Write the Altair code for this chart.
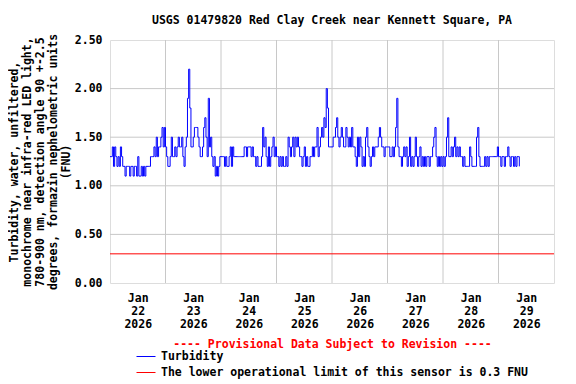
import altair as alt
import pandas as pd

title_text = "USGS 01479820 Red Clay Creek near Kennett Square, PA"
y_title = ["Turbidity, water, unfiltered,",
           "monochrome near infra-red LED light,",
           "780-900 nm, detection angle 90 +-2.5",
           "degrees, formazin nephelometric units",
           "(FNU)"]
x_title = "---- Provisional Data Subject to Revision ----"
series_turb = "Turbidity"
series_limit = "The lower operational limit of this sensor is 0.3 FNU"
limit_value = 0.3

# Turbidity (FNU), half-hourly readings, one list per day
jan22 = [1.3, 1.3, 1.4, 1.2, 1.4, 1.3, 1.2, 1.3, 1.2, 1.4, 1.3, 1.2, 1.2, 1.1, 1.2, 1.2,
         1.2, 1.1, 1.2, 1.2, 1.1, 1.2, 1.2, 1.1, 1.3, 1.1, 1.1, 1.2, 1.1, 1.2, 1.1, 1.2,
         1.2, 1.2, 1.2, 1.3, 1.3, 1.3, 1.4, 1.3, 1.5, 1.3, 1.4, 1.4, 1.5, 1.6, 1.4, 1.6]
jan23 = [1.4, 1.3, 1.2, 1.2, 1.3, 1.5, 1.3, 1.3, 1.4, 1.3, 1.4, 1.5, 1.4, 1.4, 1.5, 1.3,
         1.2, 1.4, 1.5, 1.9, 2.2, 1.8, 1.4, 1.4, 1.5, 1.6, 1.6, 1.6, 1.5, 1.4, 1.3, 1.3,
         1.4, 1.6, 1.7, 1.5, 1.3, 1.9, 1.4, 1.5, 1.3, 1.2, 1.3, 1.1, 1.2, 1.1, 1.2, 1.3]
jan24 = [1.3, 1.3, 1.3, 1.2, 1.3, 1.2, 1.2, 1.3, 1.4, 1.2, 1.4, 1.3, 1.3, 1.3, 1.3, 1.3,
         1.3, 1.3, 1.3, 1.3, 1.4, 1.4, 1.3, 1.4, 1.4, 1.4, 1.3, 1.4, 1.3, 1.3, 1.2, 1.3,
         1.2, 1.2, 1.2, 1.3, 1.6, 1.4, 1.5, 1.3, 1.2, 1.4, 1.2, 1.3, 1.4, 1.5, 1.3, 1.4]
jan25 = [1.3, 1.3, 1.2, 1.3, 1.2, 1.3, 1.2, 1.2, 1.3, 1.2, 1.5, 1.4, 1.3, 1.4, 1.5, 1.3,
         1.5, 1.4, 1.5, 1.4, 1.3, 1.3, 1.2, 1.3, 1.4, 1.2, 1.3, 1.2, 1.2, 1.3, 1.3, 1.4,
         1.3, 1.4, 1.4, 1.6, 1.3, 1.4, 1.5, 1.6, 1.5, 1.7, 1.6, 2.0, 1.8, 1.4, 1.4, 1.4]
jan26 = [1.4, 1.5, 1.5, 1.6, 1.7, 1.5, 1.4, 1.5, 1.6, 1.5, 1.4, 1.4, 1.6, 1.5, 1.4, 1.5,
         1.4, 1.6, 1.4, 1.4, 1.3, 1.2, 1.5, 1.3, 1.5, 1.4, 1.2, 1.3, 1.2, 1.5, 1.6, 1.4,
         1.3, 1.2, 1.3, 1.4, 1.3, 1.4, 1.4, 1.4, 1.5, 1.6, 1.5, 1.4, 1.4, 1.3, 1.4, 1.4]
jan27 = [1.4, 1.4, 1.3, 1.3, 1.4, 1.3, 1.4, 1.6, 1.9, 1.4, 1.3, 1.3, 1.2, 1.3, 1.4, 1.3,
         1.4, 1.2, 1.3, 1.5, 1.2, 1.3, 1.2, 1.3, 1.5, 1.3, 1.2, 1.3, 1.4, 1.2, 1.3, 1.2,
         1.3, 1.2, 1.3, 1.3, 1.2, 1.3, 1.3, 1.4, 1.5, 1.6, 1.3, 1.2, 1.3, 1.2, 1.3, 1.2]
jan28 = [1.3, 1.2, 1.3, 1.5, 1.7, 1.3, 1.3, 1.4, 1.3, 1.4, 1.5, 1.3, 1.4, 1.3, 1.4, 1.3,
         1.3, 1.2, 1.3, 1.2, 1.2, 1.2, 1.2, 1.4, 1.3, 1.2, 1.2, 1.2, 1.2, 1.5, 1.6, 1.3,
         1.2, 1.2, 1.2, 1.2, 1.3, 1.2, 1.3, 1.2, 1.3, 1.3, 1.3, 1.3, 1.3, 1.3, 1.3, 1.4]
jan29 = [1.3, 1.3, 1.2, 1.3, 1.3, 1.2, 1.3, 1.3, 1.4, 1.3, 1.2, 1.3, 1.3, 1.2, 1.3, 1.2,
         1.3, 1.3, 1.2]

series_start = "2026-01-22T00:00:00Z"
label_days = ["2026-01-22", "2026-01-23", "2026-01-24", "2026-01-25",
              "2026-01-26", "2026-01-27", "2026-01-28", "2026-01-29"]
grid_days = ["2026-01-23", "2026-01-24", "2026-01-25", "2026-01-26",
             "2026-01-27", "2026-01-28", "2026-01-29"]
domain_days = ["2026-01-22", "2026-01-30"]
y_ticks = [0.0, 0.5, 1.0, 1.5, 2.0, 2.5]
y_grid = [0.5, 1.0, 1.5, 2.0]

values = jan22 + jan23 + jan24 + jan25 + jan26 + jan27 + jan28 + jan29
times = pd.date_range(series_start, periods=len(values), freq="30min")
df = pd.DataFrame({
    "time": [t.strftime("%Y-%m-%dT%H:%M:%SZ") for t in times],
    "value": values,
    "series": series_turb,
})
limit_df = pd.DataFrame({"value": [limit_value], "series": [series_limit]})
vgrid_df = pd.DataFrame({"time": [d + "T00:00:00Z" for d in grid_days]})
hgrid_df = pd.DataFrame({"value": y_grid})


def dt(s, hour=0):
    y, m, d = (int(p) for p in s.split("-"))
    return alt.DateTime(year=y, month=m, date=d, hours=hour, utc=True)


FONT = "DejaVu Sans Mono"
FS = 11.5
GRID = "#c8c8c8"

x_scale = alt.Scale(type="utc", domain=[dt(domain_days[0]), dt(domain_days[1])])
y_scale = alt.Scale(domain=[0, 2.5], nice=False, zero=True)
color_scale = alt.Scale(domain=[series_turb, series_limit], range=["#0000ff", "#ff0000"])

x_axis = alt.Axis(
    values=[dt(d, 12) for d in label_days],
    labelExpr="[utcFormat(datum.value, '%b'), utcFormat(datum.value, '%d'), utcFormat(datum.value, '%Y')]",
    grid=False, ticks=False, domain=False, labelAngle=0, labelFlush=False, labelOverlap=False,
    labelFont=FONT, labelFontSize=FS, labelFontWeight="bold", labelColor="black",
    labelLineHeight=13, labelPadding=9,
    title=x_title, titleFont=FONT, titleFontSize=FS, titleFontWeight="bold",
    titleColor="#ff0000", titlePadding=9,
)
y_axis = alt.Axis(
    values=y_ticks, format=".2f", grid=False,
    ticks=False, domain=False,
    labelFont=FONT, labelFontSize=FS, labelFontWeight="bold", labelColor="black", labelPadding=8,
    title=y_title, titleFont=FONT, titleFontSize=FS, titleFontWeight="bold", titleColor="black",
    titleLineHeight=13, titlePadding=3,
)
legend = alt.Legend(
    title=None, orient="none", legendX=26, legendY=310, direction="vertical",
    symbolType="stroke", symbolSize=361, symbolStrokeWidth=1, padding=0, rowPadding=3,
    clipHeight=13,
    labelFont=FONT, labelFontSize=FS, labelFontWeight="bold", labelColor="black",
    labelLimit=0, labelOffset=5,
)

vgrid = alt.Chart(vgrid_df).mark_rule(color=GRID, strokeWidth=1).encode(
    x=alt.X("time:T", scale=x_scale, axis=x_axis),
)
hgrid = alt.Chart(hgrid_df).mark_rule(color=GRID, strokeWidth=1).encode(
    y=alt.Y("value:Q", scale=y_scale, axis=y_axis),
)
limit = alt.Chart(limit_df).mark_rule(strokeWidth=1).encode(
    y=alt.Y("value:Q", scale=y_scale, axis=y_axis),
    color=alt.Color("series:N", scale=color_scale, legend=legend),
)
line = alt.Chart(df).mark_line(strokeWidth=1, interpolate="step-after").encode(
    x=alt.X("time:T", scale=x_scale, axis=x_axis),
    y=alt.Y("value:Q", scale=y_scale, axis=y_axis),
    color=alt.Color("series:N", scale=color_scale, legend=legend),
)

chart = alt.layer(vgrid, hgrid, limit, line).properties(
    width=444, height=243,
    autosize=alt.AutoSizeParams(type="none"),
    padding={"left": 102, "top": 32, "right": 14, "bottom": 96},
    title=alt.TitleParams(title_text, anchor="middle", font=FONT, fontSize=FS,
                          fontWeight="bold", color="black", offset=7),
).configure_view(stroke="black", strokeWidth=1.5).configure(background="white")

chart.save("out.html", embed_options={"renderer": "svg", "actions": False})
